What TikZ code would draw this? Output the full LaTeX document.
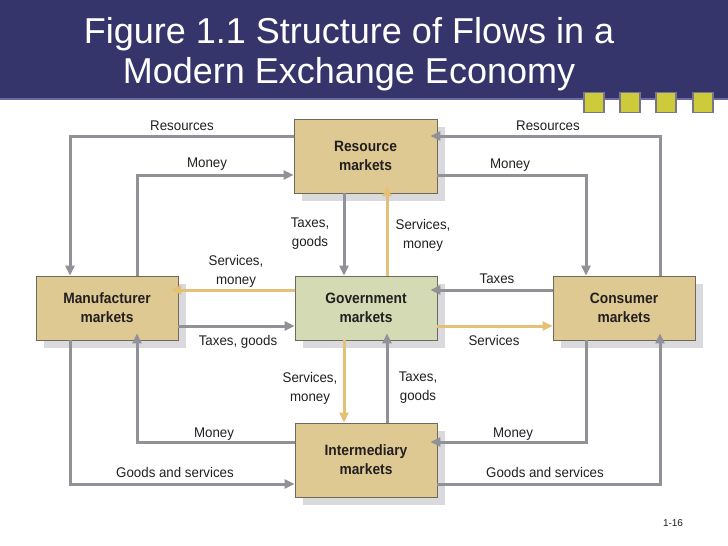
\documentclass[tikz,border=0pt]{standalone}
\usepackage{fontspec}
\setmainfont{Liberation Sans}
\newfontfamily\lblfont[FakeStretch=0.95]{Liberation Sans}
\newfontfamily\boxfont[FakeStretch=0.92]{Liberation Sans}
\usetikzlibrary{arrows.meta,calc,backgrounds}
\definecolor{navy}{HTML}{36356B}
\definecolor{bandline}{HTML}{6A6AA6}
\definecolor{sqfill}{HTML}{CDCB3A}
\definecolor{sqline}{HTML}{77768E}
\definecolor{tanfill}{HTML}{DEC992}
\definecolor{govfill}{HTML}{D4DBB4}
\definecolor{boxline}{HTML}{6E695A}
\definecolor{flowgray}{HTML}{919198}
\definecolor{flowgold}{HTML}{E5C178}
\definecolor{shadowgray}{HTML}{DADADE}
\definecolor{labeltext}{HTML}{231F20}
\tikzset{
  mkt/.style={draw=boxline, line width=0.8pt, fill=tanfill, minimum width=142pt,
    minimum height=64pt, inner sep=0pt, align=center, text=labeltext,
    font=\boxfont\bfseries\fontsize{15}{19}\selectfont},
  tall/.style={minimum height=74pt},
  govbox/.style={fill=govfill},
  garr/.style={draw=flowgray, line width=3pt, -{Triangle[length=10pt,width=9pt]}},
  yarr/.style={draw=flowgold, line width=3pt, -{Triangle[length=10pt,width=9pt]}},
  past/.style={shorten >=-7pt},
  lbl/.style={inner sep=0pt, text=labeltext, font=\lblfont\fontsize{14}{19}\selectfont, align=center},
  sq/.style={fill=sqfill, draw=sqline, line width=1.5pt, minimum size=20pt, inner sep=0pt},
  ttl/.style={text=white, font=\fontsize{36}{40}\selectfont, inner sep=0pt}
}
\begin{document}
\begin{tikzpicture}[x=1pt,y=-1pt]
\useasboundingbox (0,0) rectangle (728,546);
% title band
\fill[navy] (0,0) rectangle (728,98);
\draw[bandline, line width=2pt] (0,99) -- (728,99);
\node[ttl, anchor=base] (t1) at (349,43) {Figure 1.1 Structure of Flows in a};
\node[ttl, anchor=base] (t2) at (349,83) {Modern Exchange Economy};
\node[sq] (s1) at (594,102.5) {};
\node[sq] (s2) at (630,102.5) {};
\node[sq] (s3) at (666,102.5) {};
\node[sq] (s4) at (703,102.5) {};
% boxes
\node[mkt, tall, minimum width=143pt] (res) at (365.5,156) {Resource\\markets};
\node[mkt] (man) at (107,308) {Manufacturer\\markets};
\node[mkt, govbox] (gov) at (366,308) {Government\\markets};
\node[mkt] (con) at (624,308) {Consumer\\markets};
\node[mkt, tall] (int) at (366,460) {Intermediary\\markets};
\begin{scope}[on background layer]
  \fill[white] (0,101) rectangle (728,546);
  \foreach \b in {res,man,gov,con,int}
    \fill[shadowgray] ($(\b.south west)+(8,8)$) rectangle ($(\b.north east)+(8,8)$);
\end{scope}
% flows top
\draw[garr] (res.west |- 0,136) -| (man.north -| 70,0);
\draw[garr] (man.north -| 137,0) |- (res.west |- 0,175);
\draw[garr, past] (con.north -| 660,0) |- (res.east |- 0,136);
\draw[garr] (res.east |- 0,175) -| (con.north -| 586,0);
\draw[garr] (res.south -| 344,0) -- (gov.north -| 344,0);
\draw[yarr, past] (gov.north -| 387,0) -- (res.south -| 387,0);
% flows middle
\draw[yarr, past] (gov.west |- 0,290) -- (man.east |- 0,290);
\draw[garr] (man.east |- 0,326) -- (gov.west |- 0,326);
\draw[garr, past] (con.west |- 0,290) -- (gov.east |- 0,290);
\draw[yarr] (gov.east |- 0,326) -- (con.west |- 0,326);
% flows bottom
\draw[yarr] (gov.south -| 344,0) -- (int.north -| 344,0);
\draw[garr, past] (int.north -| 387,0) -- (gov.south -| 387,0);
\draw[garr, past] (int.west |- 0,442) -| (man.south -| 137,0);
\draw[garr] (man.south -| 70,0) |- (int.west |- 0,484);
\draw[garr, past] (con.south -| 586,0) |- (int.east |- 0,442);
\draw[garr, past] (int.east |- 0,484) -| (con.south -| 660,0);
% labels
\node[lbl, anchor=base] (l1) at (182,130) {Resources};
\node[lbl, anchor=base] (l2) at (207,167) {Money};
\node[lbl, anchor=base] (l3) at (548,130) {Resources};
\node[lbl, anchor=base] (l4) at (510,168) {Money};
\node[lbl] (l5) at (310,234) {Taxes,\\goods};
\node[lbl] (l6) at (423,235) {Services,\\money};
\node[lbl] (l7) at (236,271) {Services,\\money};
\node[lbl, anchor=base] (l8) at (238,345) {Taxes, goods};
\node[lbl, anchor=base] (l9) at (497,283) {Taxes};
\node[lbl, anchor=base] (l10) at (494,345) {Services};
\node[lbl] (l11) at (310,388) {Services,\\money};
\node[lbl] (l12) at (418,388) {Taxes,\\goods};
\node[lbl, anchor=base] (l13) at (214,437) {Money};
\node[lbl, anchor=base] (l14) at (175,477) {Goods and services};
\node[lbl, anchor=base] (l15) at (513,437) {Money};
\node[lbl, anchor=base] (l16) at (545,477) {Goods and services};
\node[inner sep=0pt, anchor=base, font=\fontsize{10}{12}\selectfont, text=labeltext] (pg) at (673,526) {1-16};
\end{tikzpicture}
\end{document}
